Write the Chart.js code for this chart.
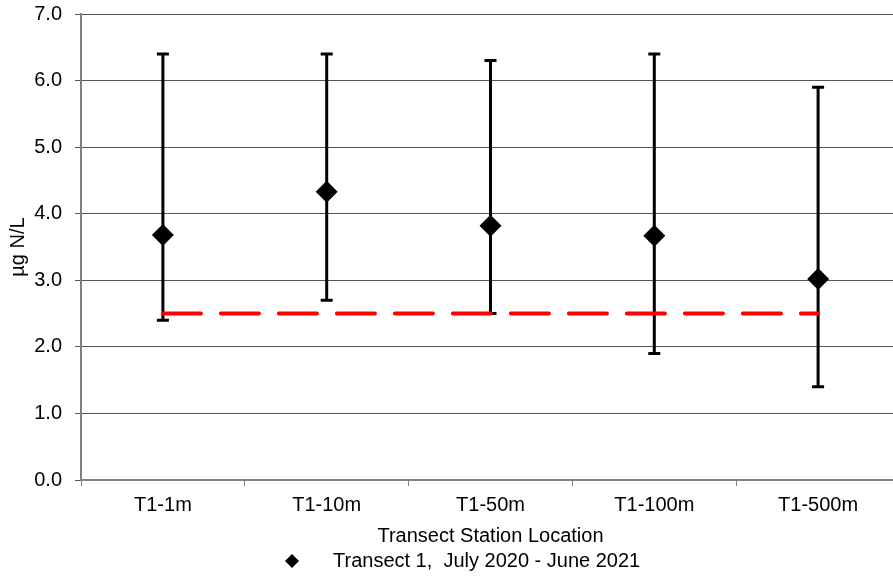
<!DOCTYPE html>
<html>
<head>
<meta charset="utf-8">
<script src="https://cdn.jsdelivr.net/npm/chart.js@4"></script>
<style>
  html, body { margin: 0; padding: 0; background: #fff; overflow: hidden; }
</style>
</head>
<body>
<canvas id="chart" width="900" height="576"></canvas>
<script>
// station data
const stations = ["T1-1m", "T1-10m", "T1-50m", "T1-100m", "T1-500m"];
const meanValues = [3.68, 4.33, 3.82, 3.67, 3.02];
const errHigh = [6.4, 6.4, 6.3, 6.4, 5.9];
const errLow = [2.4, 2.7, 2.5, 1.9, 1.4];
const thresholdValues = [2.5, 2.5, 2.5, 2.5, 2.5];
const yTicks = [0, 1, 2, 3, 4, 5, 6, 7];
const seriesName = 'Transect 1,  July 2020 - June 2021';

const FONT = "'Liberation Sans', Arial, sans-serif";

// draws the whiskers under the diamonds
const errorBars = {
    id: 'errorBars',
    beforeDatasetsDraw(chart) {
        const ctx = chart.ctx;
        const x = chart.scales.x;
        const y = chart.scales.y;
        ctx.save();
        ctx.strokeStyle = '#000';
        ctx.lineWidth = 3;
        stations.forEach((s, i) => {
            const px = x.getPixelForValue(i);
            const top = y.getPixelForValue(errHigh[i]);
            const bot = y.getPixelForValue(errLow[i]);
            ctx.beginPath();
            ctx.moveTo(px, top);
            ctx.lineTo(px, bot);
            ctx.moveTo(px - 6, top);
            ctx.lineTo(px + 6, top);
            ctx.moveTo(px - 6, bot);
            ctx.lineTo(px + 6, bot);
            ctx.stroke();
        });
        ctx.restore();
    }
};

// legend drawn by hand so the gap between marker and text matches
const bottomLegend = {
    id: 'bottomLegend',
    afterDraw(chart) {
        const ctx = chart.ctx;
        const cy = chart.height - 15;
        const textLeft = 333;
        ctx.save();
        ctx.fillStyle = '#000';
        ctx.beginPath();
        ctx.moveTo(292, cy - 7);
        ctx.lineTo(299, cy);
        ctx.lineTo(292, cy + 7);
        ctx.lineTo(285, cy);
        ctx.closePath();
        ctx.fill();
        ctx.font = '20px ' + FONT;
        ctx.textBaseline = 'middle';
        ctx.fillText(seriesName, textLeft, cy);
        ctx.restore();
    }
};

new Chart(document.getElementById('chart'), {
    type: 'line',
    data: {
        labels: stations,
        datasets: [{
            label: seriesName,
            data: meanValues,
            showLine: false,
            pointStyle: 'rectRot',
            pointRadius: 11,
            pointHoverRadius: 11,
            backgroundColor: '#000',
            borderColor: '#000',
            borderWidth: 0
        }, {
            label: 'threshold',
            data: thresholdValues,
            borderColor: '#ff0000',
            borderWidth: 4,
            borderDash: [38, 20],
            borderCapStyle: 'round',
            pointRadius: 0,
            fill: false
        }]
    },
    options: {
        responsive: false,
        animation: false,
        layout: { autoPadding: false, padding: { top: 0, left: 0, right: 0, bottom: 28 } },
        plugins: {
            tooltip: { enabled: false },
            legend: { display: false }
        },
        scales: {
            x: {
                offset: true,
                afterFit: (axis) => {
                    axis.height = 68;
                    axis.paddingLeft = 0;
                    axis.paddingRight = 0;
                },
                grid: {
                    offset: true,
                    drawOnChartArea: false,
                    drawTicks: true,
                    tickLength: 6,
                    color: '#808080'
                },
                border: { color: '#808080', width: 2 },
                ticks: { color: '#000', font: { family: FONT, size: 20 }, padding: 7 },
                title: {
                    display: true,
                    text: 'Transect Station Location',
                    color: '#000',
                    font: { family: FONT, size: 20 },
                    padding: { top: 7, bottom: 0 }
                }
            },
            y: {
                min: 0,
                max: 7,
                afterBuildTicks: (axis) => { axis.ticks = yTicks.map(v => ({ value: v })); },
                afterFit: (axis) => {
                    axis.width = 81;
                    axis.paddingTop = 14;
                },
                grid: { color: '#555', lineWidth: 1, tickLength: 6 },
                border: { color: '#808080', width: 2 },
                ticks: {
                    color: '#000',
                    font: { family: FONT, size: 20 },
                    padding: 13,
                    callback: (v) => Number(v).toFixed(1)
                },
                title: {
                    display: true,
                    text: 'µg N/L',
                    color: '#000',
                    font: { family: FONT, size: 20 },
                    padding: { top: 6, bottom: 0 }
                }
            }
        }
    },
    plugins: [errorBars, bottomLegend]
});
</script>
</body>
</html>
